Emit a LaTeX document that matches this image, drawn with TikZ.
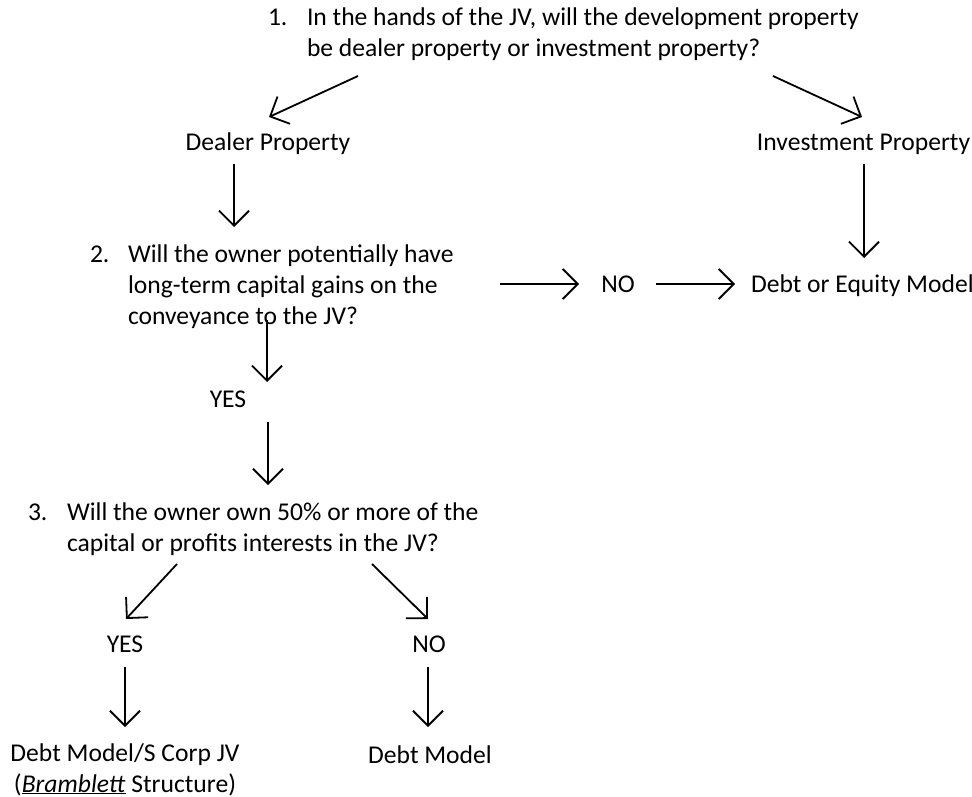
\documentclass[tikz,border=0pt]{standalone}
\usepackage{fontspec}
\setmainfont{Carlito}
\usetikzlibrary{arrows.meta}
\begin{document}
\begin{tikzpicture}[x=1pt,y=-1pt,
  every node/.style={inner sep=0pt, outer sep=0pt, font=\fontsize{25.6}{31}\selectfont},
  txt/.style={anchor=base},
  ltxt/.style={anchor=base west},
  para/.style={anchor=north west, align=left},
  cpara/.style={anchor=north, align=center},
  arr/.style={line width=1.8pt, -{Straight Barb[length=15pt,width=30pt,line width=1.8pt]}}]
\useasboundingbox (0,0) rectangle (972,797);
% question 1
\node[ltxt] (n1) at (268,26) {1.};
\node[para] (q1) at (307,4.3) {\strut In the hands of the JV, will the development property\\be dealer property or investment property?};
\node[txt] (dealer) at (268,151) {Dealer Property};
\node[txt] (invest) at (863.5,151) {Investment Property};
% question 2
\node[ltxt] (n2) at (90,262) {2.};
\node[para] (q2) at (128,240.3) {\strut Will the owner potentially have\\long-term capital gains on the\\conveyance to the JV?};
\node[txt] (no1) at (618,292) {NO};
\node[ltxt] (equity) at (751,292) {Debt or Equity Model};
\node[txt] (yes1) at (228,407) {YES};
% question 3
\node[ltxt] (n3) at (28,520) {3.};
\node[para] (q3) at (67,498.8) {\strut Will the owner own 50\% or more of the\\capital or profits interests in the JV?};
\node[txt] (yes2) at (125,652) {YES};
\node[txt] (no2) at (429,652) {NO};
\node[cpara] (scorp) at (125,739.3) {\strut Debt Model/S Corp JV\\(\underline{\textit{Bramblett}} Structure)};
\node[txt] (debt) at (430,763) {Debt Model};
% connector end points
\coordinate (a1s) at (358,76);  \coordinate (a1e) at (269,117);
\coordinate (a2s) at (773,76);  \coordinate (a2e) at (862,117);
\coordinate (a3s) at (234,164); \coordinate (a3e) at (234,227);
\coordinate (a4s) at (864,164); \coordinate (a4e) at (864,258);
\coordinate (a5s) at (500,284); \coordinate (a5e) at (579,284);
\coordinate (a6s) at (656,284); \coordinate (a6e) at (735,284);
\coordinate (a7s) at (267,320); \coordinate (a7e) at (267,382);
\coordinate (a8s) at (268,422); \coordinate (a8e) at (268,485);
\coordinate (a9s) at (177,564); \coordinate (a9e) at (126,619);
\coordinate (a10s) at (372,564); \coordinate (a10e) at (428,619);
\coordinate (a11s) at (125,667); \coordinate (a11e) at (125,727);
\coordinate (a12s) at (428,667); \coordinate (a12e) at (428,727);
\foreach \i in {1,...,12} {\draw[arr] (a\i s) -- (a\i e);}
\end{tikzpicture}
\end{document}
